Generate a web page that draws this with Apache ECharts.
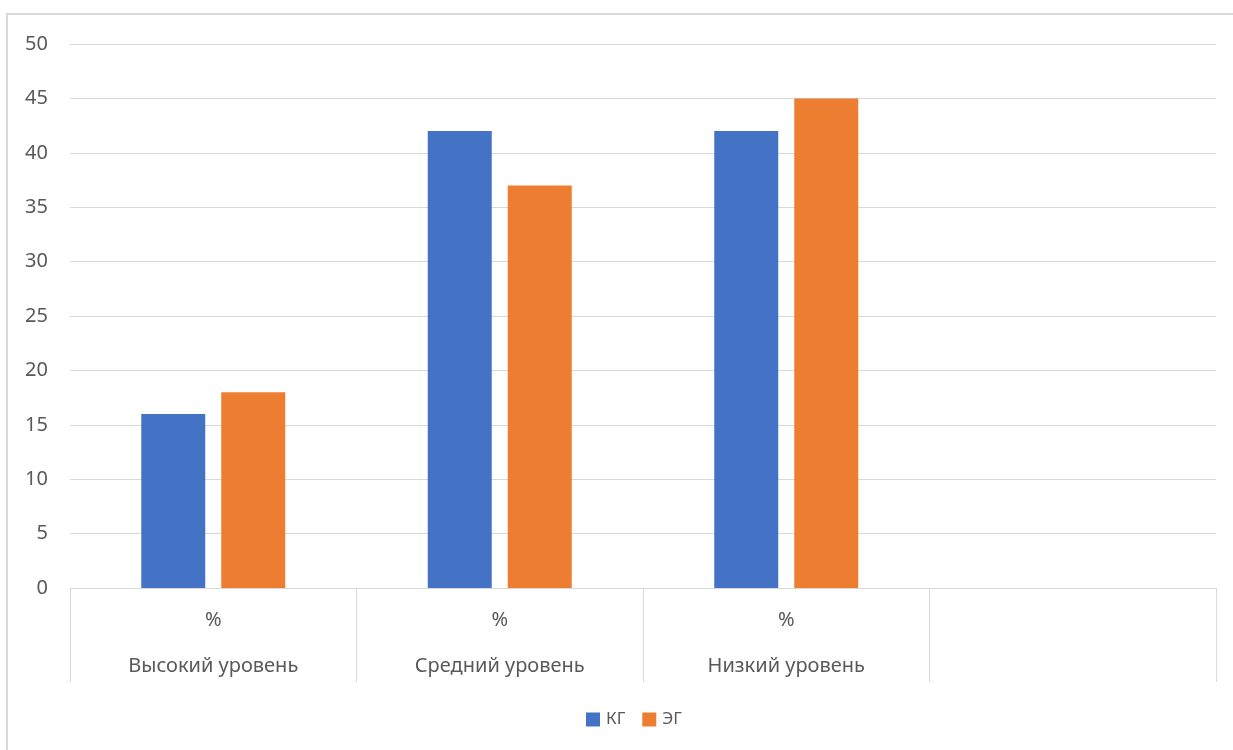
<!DOCTYPE html>
<html>
<head>
<meta charset="utf-8">
<script src="https://cdn.jsdelivr.net/npm/echarts@6/dist/echarts.min.js"></script>
<style>
html,body{margin:0;padding:0;background:#fff;}
#chart{width:1233px;height:750px;}
</style>
</head>
<body>
<div id="chart"></div>
<script>
var categories = ['Высокий уровень', 'Средний уровень', 'Низкий уровень', ''];
var subLabel = '%';
var seriesNames = ['КГ', 'ЭГ'];
var kgValues = [16, 42, 42, null];
var egValues = [18, 37, 45, null];
var yTicks = { min: 0, max: 50, interval: 5 };

var FONT = 'Noto Sans';
var TEXT = '#595959';
var LINE = '#d9d9d9';

var chart = echarts.init(document.getElementById('chart'));
chart.setOption({
  animation: false,
  backgroundColor: '#fff',
  textStyle: { fontFamily: FONT },
  graphic: [{
    type: 'rect',
    shape: { x: 7, y: 14, width: 1240, height: 760 },
    style: { fill: 'none', stroke: LINE, lineWidth: 2 },
    silent: true
  }],
  grid: { left: 70, right: 17, top: 44, bottom: 162, containLabel: false },
  legend: {
    top: 706,
    left: 581,
    itemWidth: 14,
    itemHeight: 14,
    itemGap: 17,
    icon: 'rect',
    textStyle: { color: TEXT, fontSize: 17, fontFamily: FONT, padding: [0, 0, 0, 1] },
    data: seriesNames
  },
  xAxis: {
    type: 'category',
    data: categories,
    axisLine: { show: true, lineStyle: { color: LINE, width: 1 } },
    axisTick: { show: true, length: 94, alignWithLabel: false, lineStyle: { color: LINE, width: 1 } },
    axisLabel: {
      interval: 0,
      margin: 9,
      color: TEXT,
      fontFamily: FONT,
      fontSize: 20,
      formatter: function (v) {
        if (!v) return '';
        return '{a|' + subLabel + '}\n{b|' + v + '}';
      },
      rich: {
        a: { lineHeight: 46, fontSize: 20, color: TEXT, fontFamily: FONT },
        b: { lineHeight: 46, fontSize: 20, color: TEXT, fontFamily: FONT }
      }
    },
    splitLine: { show: false }
  },
  yAxis: {
    type: 'value',
    min: yTicks.min,
    max: yTicks.max,
    interval: yTicks.interval,
    axisLine: { show: false },
    axisTick: { show: false },
    axisLabel: { color: TEXT, fontSize: 20, margin: 22, fontFamily: FONT },
    splitLine: { lineStyle: { color: LINE, width: 1 } }
  },
  series: [{
    name: seriesNames[0],
    type: 'bar',
    data: kgValues,
    barWidth: 64,
    barGap: '25%',
    itemStyle: { color: '#4472C4' }
  }, {
    name: seriesNames[1],
    type: 'bar',
    data: egValues,
    barWidth: 64,
    barGap: '25%',
    itemStyle: { color: '#ED7D31' }
  }]
});
</script>
</body>
</html>
